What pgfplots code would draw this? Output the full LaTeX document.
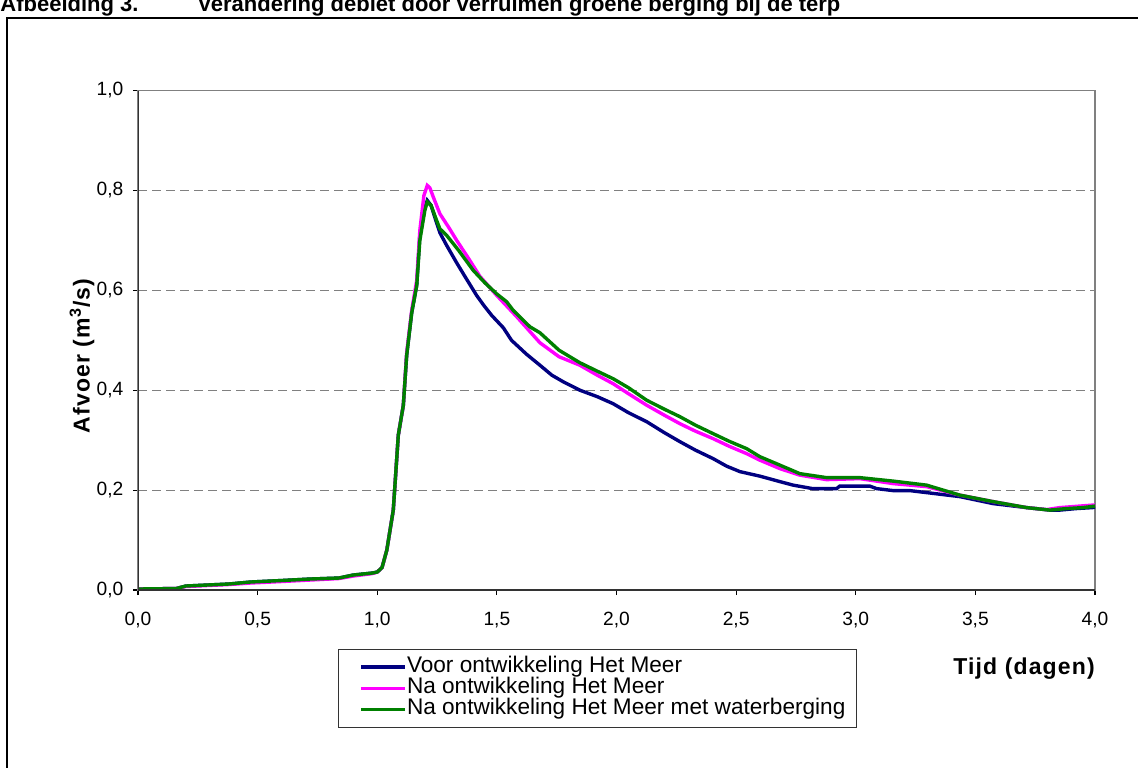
\documentclass[border=0pt]{standalone}
\usepackage{fontspec}
\setmainfont{Liberation Sans}
\newfontfamily\widebold[LetterSpace=5]{Liberation Sans}
\usepackage{pgfplots}
\pgfplotsset{compat=1.18}
\definecolor{cblue}{HTML}{000080}
\definecolor{cmag}{HTML}{FF00FF}
\definecolor{cgreen}{HTML}{008000}
\definecolor{cgrid}{HTML}{808080}
\begin{document}
\begin{tikzpicture}
\useasboundingbox (0,0) rectangle (569pt,-383.5pt);
\draw[black, line width=0.6pt] (3.5pt,-400pt) -- (3.5pt,-9pt) -- (590pt,-9pt);
\node[anchor=base west, inner sep=0pt, font=\bfseries\fontsize{11}{13}\selectfont] at (0pt,-5.5pt) {Afbeelding 3.};
\node[anchor=base west, inner sep=0pt, font=\bfseries\fontsize{11}{13}\selectfont] at (98.5pt,-5.5pt) {Verandering debiet door verruimen groene berging bij de terp};
\begin{axis}[
  at={(69pt,-295pt)}, anchor=south west,
  scale only axis, width=478.5pt, height=249.75pt,
  xmin=0, xmax=4, ymin=0, ymax=1,
  xtick={0,0.5,1,1.5,2,2.5,3,3.5,4},
  ytick={0,0.2,0.4,0.6,0.8,1},
  xtick pos=left, ytick pos=left,
  tick align=outside, major tick length=2.5pt,
  tick style={black, line width=0.6pt},
  axis line style={cgrid, line width=0.7pt},
  ymajorgrids,
  major grid style={cgrid, line width=0.6pt, dash pattern=on 4.5pt off 2.5pt},
  tick label style={font=\fontsize{9.6}{11}\selectfont},
  xticklabel style={yshift=-5.2pt},
  yticklabel style={xshift=-1.3pt},
  /pgf/number format/.cd, assume math mode=true, use comma, fixed, fixed zerofill, precision=1,
  /pgfplots/.cd,
  legend cell align=left,
  legend image code/.code={\path (0pt,0pt); \draw[#1] (5pt,0pt) -- (27pt,0pt);},
  legend style={at={(axis description cs:0.209,-0.118)}, anchor=north west,
    draw=black!80, line width=0.6pt, inner xsep=5.5pt, inner ysep=3.5pt,
    font=\fontsize{11.3}{10.5}\selectfont, row sep=0pt,
    nodes={inner sep=0pt, text height=8pt, text depth=2.6pt}},
]
\addplot[cblue, line width=1.7pt] coordinates {
(0,0.002) (0.16,0.003) (0.2,0.008) (0.38,0.012) (0.47,0.016) (0.6,0.019) (0.72,0.022) (0.84,0.024) (0.9,0.030) (0.98,0.034) (1.0,0.036) (1.02,0.045) (1.04,0.08) (1.067,0.16) (1.088,0.31) (1.109,0.37) (1.123,0.47) (1.144,0.555) (1.165,0.61) (1.178,0.71) (1.199,0.765) (1.209,0.78) (1.225,0.77) (1.248,0.735) (1.262,0.715) (1.29,0.69) (1.332,0.655) (1.37,0.625) (1.415,0.59) (1.445,0.57) (1.478,0.55) (1.527,0.525) (1.561,0.50) (1.624,0.472) (1.68,0.45) (1.73,0.43) (1.777,0.417) (1.847,0.40) (1.92,0.387) (1.986,0.373) (2.05,0.355) (2.126,0.337) (2.2,0.315) (2.265,0.297) (2.33,0.28) (2.404,0.263) (2.46,0.248) (2.516,0.237) (2.599,0.228) (2.683,0.217) (2.738,0.21) (2.82,0.203) (2.92,0.203) (2.933,0.208) (3.059,0.208) (3.087,0.203) (3.157,0.199) (3.226,0.199) (3.296,0.195) (3.435,0.187) (3.574,0.173) (3.714,0.165) (3.811,0.16) (3.853,0.16) (3.92,0.163) (3.99,0.165) (4.0,0.166)
};
\addlegendentry{Voor ontwikkeling Het Meer}
\addplot[cmag, line width=1.7pt] coordinates {
(0,0.002) (0.16,0.003) (0.2,0.007) (0.38,0.011) (0.47,0.014) (0.6,0.017) (0.72,0.020) (0.84,0.023) (0.9,0.028) (0.98,0.033) (1.0,0.036) (1.02,0.045) (1.04,0.08) (1.067,0.16) (1.088,0.31) (1.109,0.37) (1.123,0.475) (1.144,0.56) (1.165,0.62) (1.178,0.72) (1.195,0.79) (1.209,0.81) (1.22,0.805) (1.234,0.787) (1.262,0.753) (1.30,0.725) (1.332,0.70) (1.38,0.665) (1.429,0.628) (1.499,0.59) (1.583,0.547) (1.68,0.495) (1.76,0.467) (1.847,0.45) (1.92,0.43) (1.986,0.413) (2.05,0.393) (2.126,0.37) (2.2,0.35) (2.265,0.333) (2.33,0.318) (2.404,0.303) (2.47,0.288) (2.544,0.273) (2.599,0.26) (2.683,0.243) (2.766,0.23) (2.878,0.221) (3.017,0.223) (3.157,0.213) (3.296,0.207) (3.435,0.19) (3.574,0.177) (3.714,0.165) (3.797,0.161) (3.853,0.165) (3.99,0.17) (4.0,0.17)
};
\addlegendentry{Na ontwikkeling Het Meer}
\addplot[cgreen, line width=1.7pt] coordinates {
(0,0.002) (0.16,0.003) (0.2,0.008) (0.38,0.012) (0.47,0.016) (0.6,0.019) (0.72,0.022) (0.84,0.024) (0.9,0.030) (0.98,0.034) (1.0,0.036) (1.02,0.045) (1.04,0.08) (1.067,0.16) (1.088,0.31) (1.109,0.37) (1.123,0.47) (1.144,0.555) (1.165,0.61) (1.178,0.70) (1.199,0.76) (1.209,0.777) (1.225,0.77) (1.248,0.74) (1.262,0.723) (1.29,0.71) (1.34,0.68) (1.401,0.64) (1.45,0.615) (1.499,0.593) (1.541,0.577) (1.568,0.56) (1.638,0.527) (1.68,0.515) (1.76,0.48) (1.847,0.455) (1.92,0.438) (1.986,0.423) (2.05,0.405) (2.126,0.38) (2.2,0.362) (2.265,0.347) (2.33,0.33) (2.404,0.313) (2.47,0.298) (2.544,0.283) (2.599,0.267) (2.683,0.25) (2.766,0.233) (2.878,0.225) (3.017,0.225) (3.157,0.218) (3.296,0.21) (3.435,0.19) (3.574,0.177) (3.714,0.165) (3.811,0.16) (3.88,0.163) (3.95,0.165) (4.0,0.168)
};
\addlegendentry{Na ontwikkeling Het Meer met waterberging}
\draw[black!80, line width=0.7pt] (axis cs:0,1) -- (axis cs:0,0) -- (axis cs:4,0);
\end{axis}
\node[font=\widebold\bfseries\fontsize{11.5}{13}\selectfont] at (512pt,-334.5pt) {Tijd (dagen)};
\node[rotate=90, font=\widebold\bfseries\fontsize{11.5}{13}\selectfont] at (41pt,-178pt) {Afvoer (m\textsuperscript{3}/s)};
\end{tikzpicture}
\end{document}
